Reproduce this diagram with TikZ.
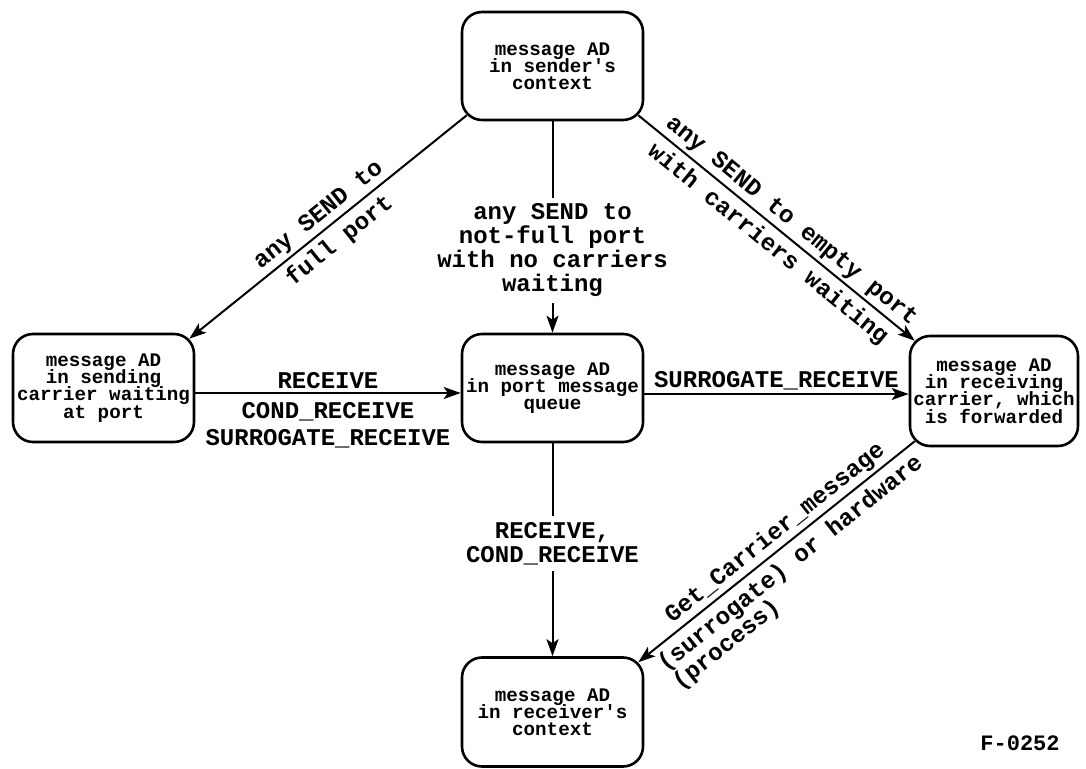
\documentclass[tikz,border=0pt]{standalone}
\usepackage{fontspec}
\setmainfont{Liberation Mono}[Ligatures=TeXOff]
\usetikzlibrary{arrows.meta,calc}
\newcommand\statefont{\fontsize{9.6}{8.6}\selectfont\bfseries\lineskiplimit=-5pt\relax}
\begin{document}
\begin{tikzpicture}[x=0.5pt,y=-0.5pt,
  state/.style={draw, line width=1.3pt, rounded corners=10pt,
    minimum width=90.5pt, minimum height=54pt, align=center, inner sep=0pt,
    font=\statefont},
  flow/.style={line width=1pt, -{Stealth[length=8.5pt,width=6pt,inset=2pt]}},
  lbl/.style={font=\fontsize{12}{12}\selectfont\bfseries, inner sep=1.5pt},
]
\useasboundingbox (0,0) rectangle (1086,769);

% states of the message AD
\node[state] (sender) at (552.5,66) {message AD\\in sender's\\context};
\node[state] (sending) at (103.5,388) {message AD\\in sending\\carrier waiting\\at port};
\node[state] (queue) at (552.5,388) {message AD\\in port message\\queue};
\node[state, minimum width=84pt, minimum height=55pt] (receiving) at (994,391)
  {message AD\\in receiving\\carrier, which\\is forwarded};
\node[state, minimum height=54.5pt] (receiver) at (552.5,712) {message AD\\in receiver's\\context};

% transitions
\draw[flow] ($(sender.south west)+(6,-6)$) -- ($(sending.north east)+(-6,6)$)
  node[lbl, sloped, above, pos=0.5] {any SEND to}
  node[lbl, sloped, below, pos=0.5, inner sep=3pt] {full port};

\draw[flow] (sender.south) -- (queue.north)
  node[lbl, pos=0.61, fill=white, align=center, inner sep=3pt]
  {any SEND to\\not-full port\\with no carriers\\waiting};

\draw[flow] ($(sender.south east)+(-6,-6)$) -- ($(receiving.north west)+(6,6)$)
  node[lbl, sloped, above, pos=0.52] {any SEND to empty port}
  node[lbl, sloped, below, pos=0.51, inner sep=3pt] {with carriers waiting};

\draw[flow] ($(sending.east)+(0,5)$) -- ($(queue.west)+(0,5)$)
  node[lbl, above, midway] {RECEIVE}
  node[lbl, below, midway, align=center, inner sep=4pt] {COND\_RECEIVE\\[1.5pt]SURROGATE\_RECEIVE};

\draw[flow] ($(queue.east)+(0,6)$) -- (receiving.west |- 0,394)
  node[lbl, above, midway] {SURROGATE\_RECEIVE};

\draw[flow] (queue.south) -- (receiver.north)
  node[lbl, pos=0.47, fill=white, align=center, inner sep=3pt] {RECEIVE,\\COND\_RECEIVE};

\draw[flow] ($(receiving.south west)+(6,-6)$) -- ($(receiver.north east)+(-6,6)$)
  node[lbl, sloped, above, pos=0.47] {Get\_Carrier\_message}
  node[lbl, sloped, below, pos=0.49, align=left, inner sep=3pt] {(surrogate) or hardware\\(process)};

% figure number
\node[lbl, font=\fontsize{11}{11}\selectfont\bfseries] (fignum) at (1020,743) {F-0252};
\end{tikzpicture}
\end{document}
